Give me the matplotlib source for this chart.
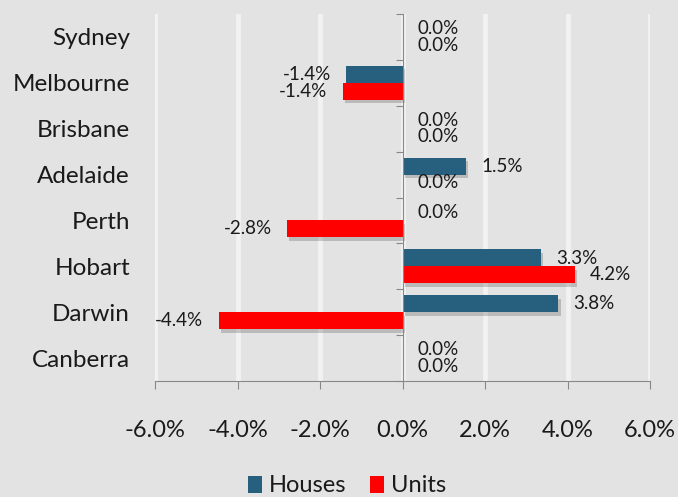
import matplotlib
matplotlib.use("Agg")
import matplotlib.pyplot as plt
import matplotlib.patheffects as pe
import numpy as np

plt.rcParams['font.family'] = ['Lato', 'DejaVu Sans']

cities = ["Sydney", "Melbourne", "Brisbane", "Adelaide", "Perth", "Hobart", "Darwin", "Canberra"]
houses = [0.0, -1.36, 0.0, 1.54, 0.0, 3.36, 3.78, 0.0]
units = [0.0, -1.45, 0.0, 0.0, -2.80, 4.17, -4.46, 0.0]
labels_h = ["0.0%", "-1.4%", "0.0%", "1.5%", "0.0%", "3.3%", "3.8%", "0.0%"]
labels_u = ["0.0%", "-1.4%", "0.0%", "0.0%", "-2.8%", "4.2%", "-4.4%", "0.0%"]
xticks = [-6, -4, -2, 0, 2, 4, 6]

bg = '#e3e3e3'
c_h = '#27607e'
c_u = '#ff0000'
txt = '#1a1a1a'
axc = '#888888'

fig = plt.figure(figsize=(6.78, 4.97), dpi=100, facecolor=bg)
ax = fig.add_axes([155/678, 1-381/497, (650-155)/678, (381-14)/497])
ax.set_facecolor(bg)

y = np.arange(len(cities))
bh = 0.37
shadow = [pe.SimplePatchShadow(offset=(1.5, -2.5), shadow_rgbFace='black', alpha=0.18), pe.Normal()]
bars_h = ax.barh(y - 0.185, houses, height=bh, color=c_h, label='Houses', zorder=3)
bars_u = ax.barh(y + 0.185, units, height=bh, color=c_u, label='Units', zorder=3)
for b in list(bars_h) + list(bars_u):
    if b.get_width() != 0:
        b.set_path_effects(shadow)

def annotate(vals, labs, off):
    for yi, v, l in zip(y, vals, labs):
        if v < 0:
            ax.annotate(l, (v, yi + off), xytext=(-11, 0), textcoords='offset points',
                        ha='right', va='center', fontsize=13.5, color=txt, zorder=5)
        else:
            ax.annotate(l, (v, yi + off), xytext=(11, 0), textcoords='offset points',
                        ha='left', va='center', fontsize=13.5, color=txt, zorder=5)

annotate(houses, labels_h, -0.18)
annotate(units, labels_u, 0.18)

ax.set_xlim(-6, 6)
ax.set_ylim(len(cities) - 0.5, -0.5)
ax.set_xticks(xticks)
ax.set_xticklabels([f"{t:.1f}%" for t in xticks], fontsize=17, color=txt)
ax.tick_params(axis='x', direction='out', length=6, color=axc, pad=22)
ax.set_yticks(np.arange(len(cities) + 1) - 0.5)
ax.set_yticklabels([])
ax.tick_params(axis='y', direction='out', length=5, color=axc)

ax.grid(axis='x', color='#f2f2f2', linewidth=3.5, zorder=0)
ax.set_axisbelow(True)
for s in ['top', 'right']:
    ax.spines[s].set_visible(False)
ax.spines['left'].set_position(('data', 0))
ax.spines['left'].set_color(axc)
ax.spines['bottom'].set_color(axc)
ax.spines['left'].set_zorder(4)

sec = ax.secondary_yaxis('left')
sec.set_yticks(y)
sec.set_yticklabels(cities, fontsize=17.5, color=txt)
sec.tick_params(axis='y', length=0, pad=18)
sec.spines['left'].set_visible(False)

fig.legend(handles=[bars_h, bars_u], loc='center', bbox_to_anchor=(347/678, 1-486/497),
           ncol=2, frameon=False, fontsize=17, handlelength=0.6, handleheight=0.7,
           handletextpad=0.3, columnspacing=1.0, labelcolor=txt,
           borderpad=0.1)

fig.savefig('out.png', dpi=100, facecolor=bg)
